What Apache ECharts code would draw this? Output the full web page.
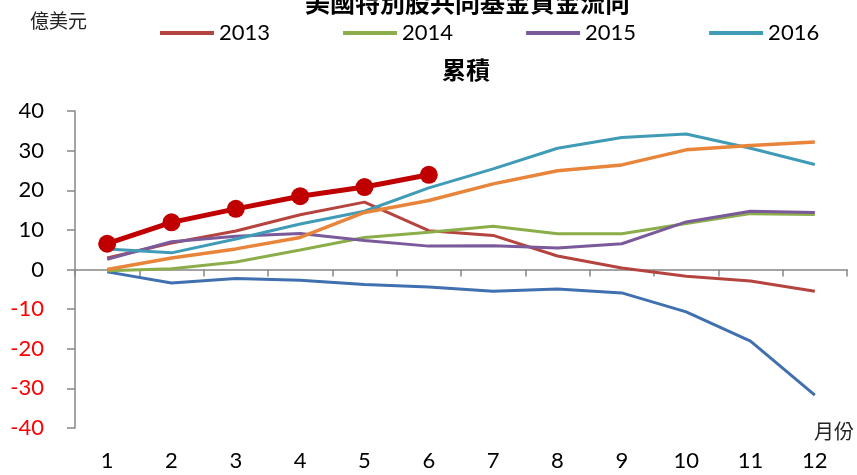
<!DOCTYPE html>
<html>
<head>
<meta charset="utf-8">
<script src="https://cdn.jsdelivr.net/npm/echarts@6/dist/echarts.min.js"></script>
<style>
  html, body { margin: 0; padding: 0; background: #fff; }
  #chart { width: 857px; height: 475px; }
</style>
</head>
<body>
<div id="chart"></div>
<script>
// 月份
const months = ["1", "2", "3", "4", "5", "6", "7", "8", "9", "10", "11", "12"];
const yTicks = [-40, -30, -20, -10, 0, 10, 20, 30, 40];

// 累積資金流向（億美元）
const s2012Blue = [-0.6, -3.4, -2.3, -2.7, -3.8, -4.4, -5.5, -4.9, -5.9, -10.7, -18.1, -31.7];
const s2013 = [2.9, 6.7, 9.7, 13.8, 17.0, 9.8, 8.6, 3.4, 0.4, -1.7, -2.9, -5.5];
const s2014 = [-0.3, 0.2, 1.9, 4.9, 8.1, 9.4, 10.9, 9.0, 9.0, 11.6, 14.1, 13.9];
const s2015 = [2.6, 7.0, 8.4, 9.1, 7.3, 5.9, 6.0, 5.4, 6.5, 12.0, 14.7, 14.4];
const s2016 = [5.2, 4.2, 7.7, 11.5, 14.7, 20.6, 25.4, 30.6, 33.3, 34.2, 30.6, 26.5];
const sOrange = [0.0, 2.9, 5.2, 8.1, 14.4, 17.4, 21.6, 24.9, 26.4, 30.2, 31.3, 32.2];
const s2017 = [6.5, 11.9, 15.3, 18.5, 20.8, 23.9];

const legendNames = ["2013", "2014", "2015", "2016"];

const chart = echarts.init(document.getElementById("chart"));

const lineSeries = (name, data, color, width) => ({
    name: name,
    type: "line",
    data: data,
    symbol: "none",
    xAxisIndex: 0,
    lineStyle: { color: color, width: width || 3 },
    itemStyle: { color: color },
    animation: false,
});

chart.setOption({
    backgroundColor: "#fff",
    title: [
        {
            text: "美國特別股共同基金資金流向",
            left: 300,
            top: -15,
            textStyle: { fontFamily: "Noto Sans CJK TC", fontSize: 25, fontWeight: "bold", color: "#000" },
        },
        {
            text: "累積",
            left: 437,
            top: 53,
            textStyle: { fontFamily: "Noto Sans CJK TC", fontSize: 24, fontWeight: "bold", color: "#000" },
        },
    ],
    legend: {
        data: legendNames,
        left: 155,
        top: 17,
        icon: "rect",
        itemWidth: 54,
        itemHeight: 4,
        itemGap: 73,
        textStyle: { fontFamily: "Lato", fontSize: 22, color: "#000" },
    },
    grid: { left: 75, right: 10, top: 111, bottom: 47, containLabel: false },
    xAxis: [
        {
            type: "category",
            data: months,
            boundaryGap: true,
            axisLine: { onZero: true, lineStyle: { color: "#868686", width: 1.5 } },
            axisTick: { show: true, length: 7, lineStyle: { color: "#868686", width: 1.5 } },
            axisLabel: { show: false },
        },
        {
            type: "category",
            data: months,
            position: "bottom",
            axisLine: { show: false, onZero: false },
            axisTick: { show: false },
            axisLabel: { margin: 22, fontFamily: "Lato", fontSize: 22, color: "#000" },
        },
    ],
    yAxis: {
        type: "value",
        min: yTicks[0],
        max: yTicks[yTicks.length - 1],
        interval: 10,
        splitLine: { show: false },
        axisLine: { show: true, lineStyle: { color: "#868686", width: 1.5 } },
        axisTick: { show: true, length: 8, lineStyle: { color: "#868686", width: 1.5 } },
        axisLabel: {
            margin: 31,
            fontFamily: "Lato",
            fontSize: 22,
            color: (v) => (Number(v) < 0 ? "#ff0000" : "#000"),
        },
    },
    graphic: [
        {
            type: "text",
            left: 30,
            top: 11,
            style: { text: "億美元", font: "19px 'Noto Sans CJK TC'", fill: "#222" },
        },
        {
            type: "text",
            left: 814,
            top: 421,
            style: { text: "月份", font: "20px 'Noto Sans CJK TC'", fill: "#222" },
        },
    ],
    series: [
        lineSeries("2012", s2012Blue, "#4070b0"),
        lineSeries("2013", s2013, "#b5443f"),
        lineSeries("2014", s2014, "#8cae4a"),
        lineSeries("2015", s2015, "#7a5a9a"),
        lineSeries("2016", s2016, "#3f9bb6"),
        lineSeries("2011", sOrange, "#e8853a", 3.5),
        {
            name: "2017",
            type: "line",
            data: s2017,
            xAxisIndex: 0,
            symbol: "circle",
            symbolSize: 18,
            lineStyle: { color: "#c00000", width: 5 },
            itemStyle: { color: "#c00000" },
            animation: false,
            z: 5,
        },
    ],
});
</script>
</body>
</html>
